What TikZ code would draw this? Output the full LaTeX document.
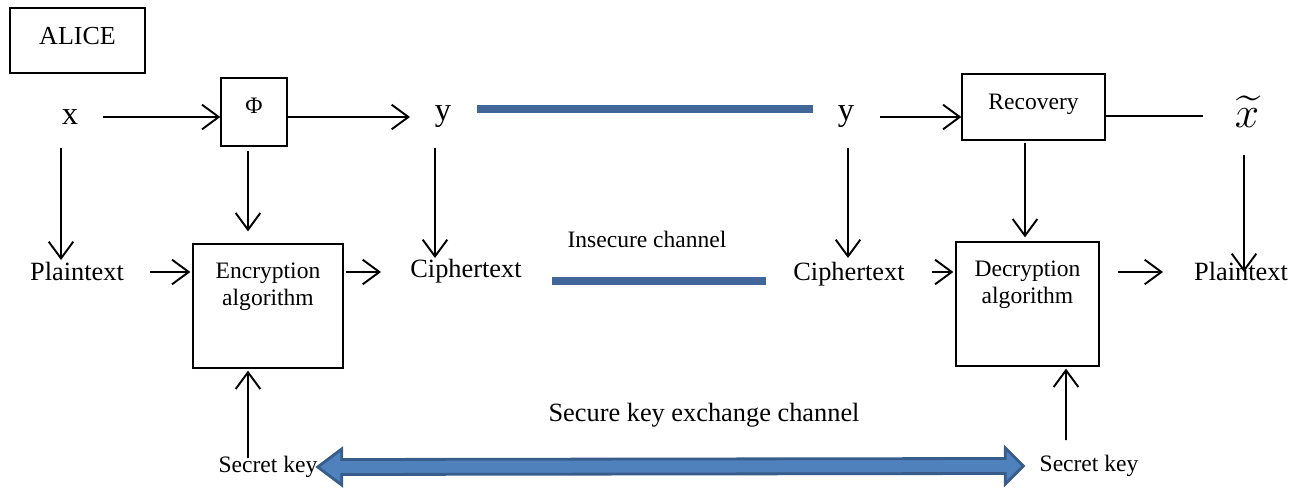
\documentclass[tikz,border=0pt]{standalone}
\usepackage{amsmath}
\usepackage{fontspec}
\setmainfont{Liberation Serif}
\usetikzlibrary{arrows.meta}
\definecolor{barblue}{HTML}{41669A}
\definecolor{keyfill}{HTML}{4F81BD}
\definecolor{keyline}{HTML}{385D8A}
\newcommand\pxl{0.569pt}

\begin{document}
\begin{tikzpicture}[x=0.02cm,y=-0.02cm,
    txt/.style={inner sep=0pt,font=\fontsize{15}{17}\selectfont},
    small/.style={inner sep=0pt,font=\fontsize{13.4}{15.5}\selectfont},
    big/.style={inner sep=0pt,font=\fontsize{18.5}{20}\selectfont},
    box/.style={draw,line width=0.75pt,inner sep=0pt},
    arr/.style={line width=1.1pt,-{Straight Barb[length=9.5pt,width=14pt,line width=1.1pt]}},
    bar/.style={line width=4.5pt,barblue},
    keyarrow/.style={fill=keyfill,draw=keyline,line width=1.6pt,line join=miter}]
                    \useasboundingbox (0,0) rectangle (1298,489);

                    % top row
                    \node[box,minimum width=135*\pxl,minimum height=65*\pxl,font=\fontsize{14.8}{16}\selectfont] (alice) at (77.5,40.5) {\raisebox{5.5pt}{ALICE}};
                    \node[big] (x) at (70,117) {x};
                    \node[box,small,minimum width=66*\pxl,minimum height=68*\pxl] (phi) at (254,112) {\raisebox{7pt}{Φ}};
                    \node[big] (yL) at (443,117) {y};
                    \node[big] (yR) at (846,117) {y};
                    \node[box,small,minimum width=143*\pxl,minimum height=66*\pxl] (rec) at (1033.5,107) {\raisebox{6pt}{Recovery}};
                    \node[inner sep=0pt,font=\fontsize{32}{32}\selectfont] (xt) at (1247,112) {$\widetilde{x}$};

                    % middle row
                    \node[txt] (plainL) at (77,271) {Plaintext};
                    \node[box,minimum width=150*\pxl,minimum height=124*\pxl,
                          label={[small,align=center,anchor=north,yshift=-0.38cm]north:Encryption\\algorithm}] (enc) at (268,306) {};
                    \node[txt] (ciphL) at (466,271) {Ciphertext};
                    \node[small] (insec) at (647,239) {Insecure channel};
                    \node[txt] (ciphR) at (849,274) {Ciphertext};
                    \node[box,minimum width=143*\pxl,minimum height=124*\pxl,
                          label={[small,align=center,anchor=north,yshift=-0.38cm]north:Decryption\\algorithm}] (dec) at (1027.5,304) {};
                    \node[txt] (plainR) at (1241,271) {Plaintext};

                    % bottom row
                    \node[txt] (secure) at (704,415) {Secure key exchange channel};
                    \node[small] (skL) at (268,467) {Secret key};
                    \node[small] (skR) at (1089,466) {Secret key};

                    % horizontal connectors
                    \draw[arr] ([shift={(33,0)}]x.center) -- ([shift={(0,5)}]phi.west);
                    \draw[arr] ([shift={(0,5)}]phi.east) -- ([shift={(-33,0)}]yL.center);
                    \draw[arr] ([shift={(34,0)}]yR.center) -- ([shift={(0,10)}]rec.west);
                    \draw[line width=1.1pt] ([shift={(0,9)}]rec.east) -- ([shift={(-44,4)}]xt.center);
                    \draw[arr] ([shift={(73,1)}]plainL.center) -- ([shift={(-2,-34)}]enc.west);
                    \draw[arr] ([shift={(2,-34)}]enc.east) -- ([shift={(-85,1)}]ciphL.center);
                    \draw[arr] ([shift={(83,-2)}]ciphR.center) -- ([shift={(-2,-32)}]dec.west);
                    \draw[arr] ([shift={(18,-32)}]dec.east) -- ([shift={(-78,1)}]plainR.center);

                    % vertical connectors
                    \draw[arr] ([shift={(-9,31)}]x.center) -- ([shift={(-16,-11)}]plainL.center);
                    \draw[arr] ([shift={(-6,4)}]phi.south) -- ([shift={(-20,-12)}]enc.north);
                    \draw[arr] ([shift={(-8,31)}]yL.center) -- ([shift={(-31,-13)}]ciphL.center);
                    \draw[arr] ([shift={(2,31)}]yR.center) -- ([shift={(-1,-16)}]ciphR.center);
                    \draw[arr] ([shift={(-8.5,2)}]rec.south) -- ([shift={(-2.5,-4)}]dec.north);
                    \draw[arr] ([shift={(-3,43)}]xt.center) -- ([shift={(3,1)}]plainR.center);
                    \draw[arr] ([shift={(-20,-9)}]skL.center) -- ([shift={(-20,2)}]enc.south);
                    \draw[arr] ([shift={(-23,-26)}]skR.center) -- ([shift={(38.5,2)}]dec.south);

                    % channels
                    \draw[bar] ([shift={(34,-8)}]yL.center) -- ([shift={(-33,-8)}]yR.center);
                    \draw[bar] ([shift={(86,10)}]ciphL.center) -- ([shift={(-83,7)}]ciphR.center);
                    \coordinate (kl) at (skL.east);
                    \coordinate (kr) at ([shift={(-16,0)}]skR.west);
                    \draw[keyarrow] (kl) -- ++(24,-18) -- ++(0,10.5) -- ([shift={(-18,-7.5)}]kr)
                        -- ++(0,-10.5) -- (kr) -- ++(-18,18) -- ++(0,-10.5)
                        -- ([shift={(24,7.5)}]kl) -- ++(0,10.5) -- cycle;
                \end{tikzpicture}
\end{document}
